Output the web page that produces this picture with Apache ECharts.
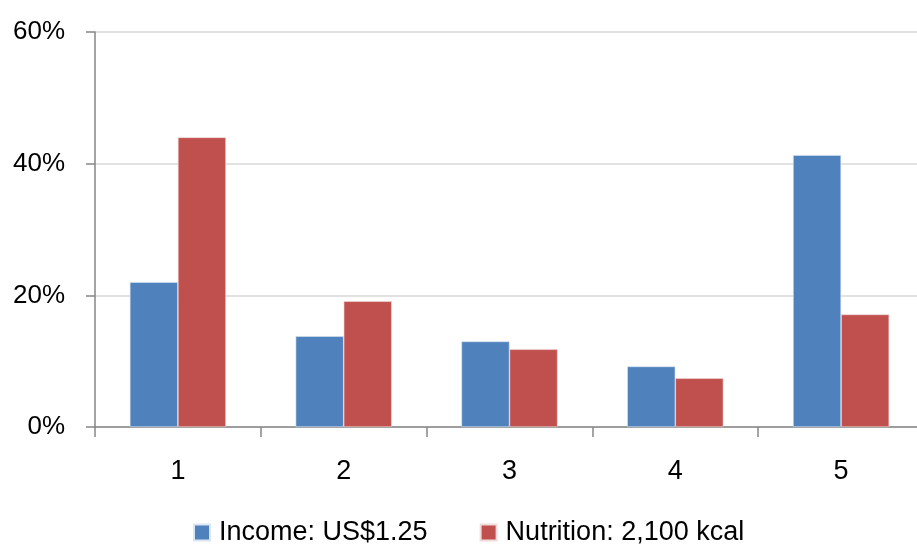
<!DOCTYPE html>
<html>
<head>
<meta charset="utf-8">
<script src="https://cdn.jsdelivr.net/npm/echarts@6/dist/echarts.min.js"></script>
<style>
  html, body { margin: 0; padding: 0; background: #ffffff; }
  #chart { width: 917px; height: 545px; }
</style>
</head>
<body>
<div id="chart"></div>
<script>
// Groups along the horizontal axis
const categories = ['1', '2', '3', '4', '5'];

// Share (%) per group under each poverty line
const incomeValues = [22.0, 13.8, 13.0, 9.2, 41.3];
const nutritionValues = [44.0, 19.1, 11.8, 7.4, 17.1];

const seriesNames = ['Income: US$1.25', 'Nutrition: 2,100 kcal'];

// Y axis range and step (percent)
const yMin = 0;
const yMax = 60;
const yStep = 20;

const FONT = '"Liberation Sans", "DejaVu Sans", sans-serif';

const chart = echarts.init(document.getElementById('chart'), null, { renderer: 'canvas' });

chart.setOption({
  animation: false,
  backgroundColor: '#ffffff',
  // plot area runs slightly past the right edge of the canvas
  grid: { left: 95, top: 32, width: 829, height: 395, containLabel: false, outerBoundsMode: 'none' },
  legend: {
    data: seriesNames,
    left: 188,
    top: 514,
    itemWidth: 16,
    itemHeight: 16,
    itemGap: 52,
    icon: 'rect',
    textStyle: { fontFamily: FONT, fontSize: 27, color: '#000000', padding: [0, 0, 0, 4] }
  },
  xAxis: {
    type: 'category',
    data: categories,
    boundaryGap: true,
    axisLine: { lineStyle: { color: '#868686', width: 1.5 } },
    axisTick: { show: true, length: 10, lineStyle: { color: '#868686', width: 1.5 } },
    axisLabel: { fontFamily: FONT, fontSize: 27, color: '#000000', margin: 31 },
    splitLine: { show: false }
  },
  yAxis: {
    type: 'value',
    min: yMin,
    max: yMax,
    interval: yStep,
    axisLine: { show: true, lineStyle: { color: '#868686', width: 1.5 } },
    axisTick: { show: true, inside: false, length: 9, lineStyle: { color: '#868686', width: 1.5 } },
    axisLabel: { fontFamily: FONT, fontSize: 26, color: '#000000', margin: 30, formatter: '{value}%' },
    splitLine: { show: true, lineStyle: { color: '#d9d9d9', width: 1.5 } }
  },
  series: [
    {
      name: seriesNames[0],
      type: 'bar',
      data: incomeValues,
      barGap: '0%',
      barCategoryGap: '42%',
      itemStyle: { color: '#4f81bd', borderColor: '#dce6f2', borderWidth: 0.6 }
    },
    {
      name: seriesNames[1],
      type: 'bar',
      data: nutritionValues,
      barGap: '0%',
      barCategoryGap: '42%',
      itemStyle: { color: '#c0504d', borderColor: '#f2dcdb', borderWidth: 0.6 }
    }
  ]
});
</script>
</body>
</html>
